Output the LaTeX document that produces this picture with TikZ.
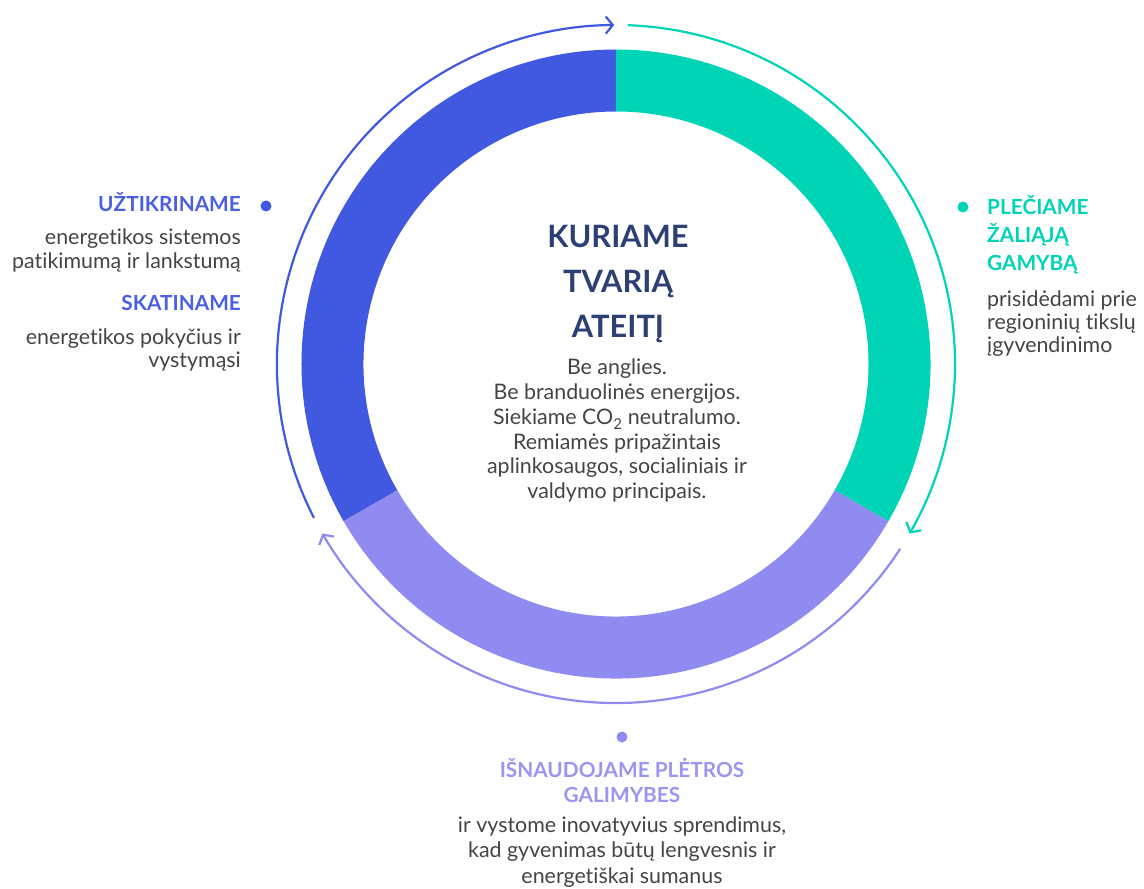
\documentclass[tikz,border=0pt]{standalone}
\usepackage{fontspec}
\setmainfont{Lato}[Ligatures=NoCommon]
\usetikzlibrary{arrows.meta}
\definecolor{ringblue}{HTML}{4158E0}
\definecolor{ringteal}{HTML}{00D4B6}
\definecolor{ringpurple}{HTML}{8F8BF0}
\definecolor{headblue}{HTML}{4A5FE2}
\definecolor{headpurple}{HTML}{9A95F2}
\definecolor{navy}{HTML}{2C4073}
\definecolor{bodygray}{HTML}{444444}
\begin{document}
\begin{tikzpicture}[x=1pt,y=1pt,
  cycarrow/.style={draw=#1, line width=2.2pt, -{Straight Barb[length=7pt,width=17pt,line width=2.2pt]}},
  marker/.style={circle, fill=#1, inner sep=0pt, minimum size=11pt},
  head/.style={font=\bfseries\fontsize{20.8}{28}\selectfont, text=#1, inner sep=0pt},
  body/.style={font=\fontsize{21.4}{24.5}\selectfont, text=bodygray, inner sep=0pt},
  ttl/.style={font=\bfseries\fontsize{30.8}{45}\selectfont, text=navy, inner sep=0pt},
]
\useasboundingbox (-616,-525) rectangle (528,364);
\clip (-616,-525) rectangle (528,364);

% ring segments
\fill[ringblue] (90:314.5) arc[start angle=90,end angle=210,radius=314.5]
  -- (210:252.5) arc[start angle=210,end angle=90,radius=252.5] -- cycle;
\fill[ringteal] (-30:314.5) arc[start angle=-30,end angle=90,radius=314.5]
  -- (90:252.5) arc[start angle=90,end angle=-30,radius=252.5] -- cycle;
\fill[ringpurple] (210:314.5) arc[start angle=210,end angle=330,radius=314.5]
  -- (330:252.5) arc[start angle=330,end angle=210,radius=252.5] -- cycle;

% cycle arrows
\coordinate (bStart) at (207:339);
\coordinate (tStart) at (88:339);
\coordinate (pStart) at (-33:339);
\draw[cycarrow=ringblue] (bStart) arc[start angle=207,end angle=90.3,radius=339];
\draw[cycarrow=ringteal] (tStart) arc[start angle=88,end angle=-30,radius=339];
\draw[cycarrow=ringpurple] (pStart) arc[start angle=-33,end angle=-150,radius=339];

% centre
\node[ttl, anchor=base] (t1) at (2,116) {KURIAME};
\node[ttl, anchor=base] (t2) at (2,71) {TVARIĄ};
\node[ttl, anchor=base] (t3) at (2,26) {ATEITĮ};
\node[body, anchor=base] (c1) at (1,-11) {Be anglies.};
\node[body, anchor=base] (c2) at (1,-35.5) {Be branduolinės energijos.};
\node[body, anchor=base] (c3) at (1,-60) {Siekiame CO\textsubscript{\raisebox{-2pt}{2}} neutralumo.};
\node[body, anchor=base] (c4) at (1,-85) {Remiamės pripažintais};
\node[body, anchor=base] (c5) at (1,-109.5) {aplinkosaugos, socialiniais ir};
\node[body, anchor=base] (c6) at (1,-134) {valdymo principais.};

% left
\node[marker=ringblue] (dL) at (-350,158) {};
\node[head=headblue, anchor=base east] (l1) at (-375,152) {UŽTIKRINAME};
\node[body, anchor=base east] (l2) at (-375,119) {energetikos sistemos};
\node[body, anchor=base east] (l3) at (-375,95) {patikimumą ir lankstumą};
\node[head=headblue, anchor=base east] (l4) at (-375,53) {SKATINAME};
\node[body, anchor=base east] (l5) at (-375,19) {energetikos pokyčius ir};
\node[body, anchor=base east] (l6) at (-375,-4) {vystymąsi};

% right
\node[marker=ringteal] (dR) at (347,157) {};
\node[head=ringteal, anchor=base west] (r1) at (371,149) {PLEČIAME};
\node[head=ringteal, anchor=base west] (r2) at (371,121) {ŽALIĄJĄ};
\node[head=ringteal, anchor=base west] (r3) at (371,93) {GAMYBĄ};
\node[body, anchor=base west] (r4) at (371,57) {prisidėdami prie};
\node[body, anchor=base west] (r5) at (371,34) {regioninių tikslų};
\node[body, anchor=base west] (r6) at (371,11) {įgyvendinimo};

% bottom
\node[marker=ringpurple] (dB) at (6,-373) {};
\node[head=headpurple, anchor=base] (b1) at (6,-413) {IŠNAUDOJAME PLĖTROS};
\node[head=headpurple, anchor=base] (b2) at (6,-438) {GALIMYBES};
\node[body, anchor=base] (b3) at (6,-468) {ir vystome inovatyvius sprendimus,};
\node[body, anchor=base] (b4) at (6,-493) {kad gyvenimas būtų lengvesnis ir};
\node[body, anchor=base] (b5) at (6,-519) {energetiškai sumanus};
\end{tikzpicture}
\end{document}
